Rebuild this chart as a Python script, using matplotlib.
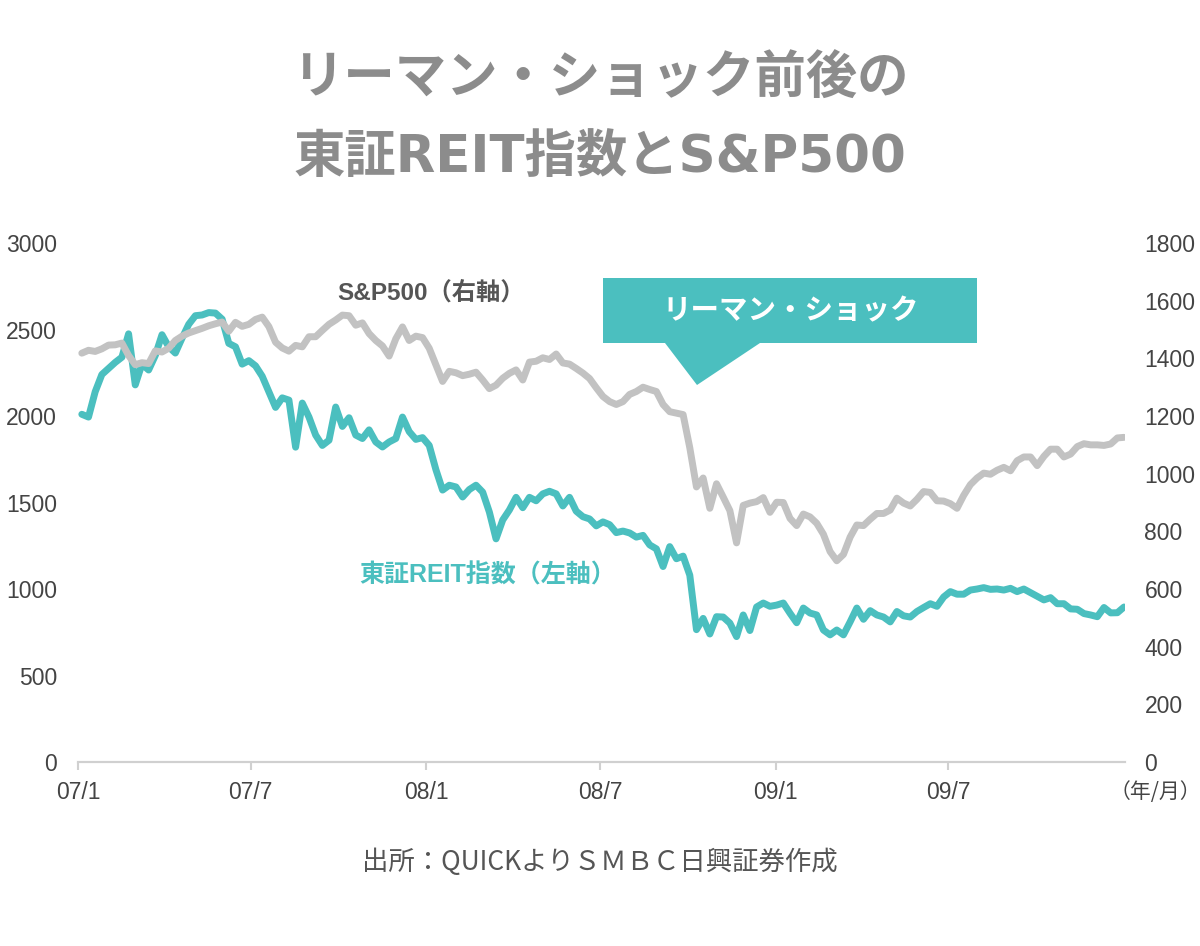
import numpy as np
import pandas as pd
import matplotlib
matplotlib.use("Agg")
import matplotlib.pyplot as plt
import matplotlib.dates as mdates
from matplotlib.patches import Polygon

plt.rcParams['font.family'] = ['Noto Sans CJK JP', 'DejaVu Sans']

# 週次（金曜）2007/1〜2009/12
dates = pd.date_range("2007-01-05", periods=157, freq="7D")

# 東証REIT指数（左軸）
reit = [
    2010, 1994, 2140, 2240, 2275, 2310, 2340, 2475, 2180, 2300,
    2266, 2350, 2470, 2400, 2364, 2450, 2530, 2580, 2584, 2598,
    2595, 2560, 2420, 2400, 2300, 2320, 2290, 2230, 2140, 2050,
    2105, 2092, 1820, 2075, 1994, 1890, 1830, 1860, 2052, 1940,
    1990, 1890, 1870, 1920, 1850, 1821, 1850, 1870, 1994, 1910,
    1865, 1875, 1830, 1690, 1572, 1600, 1590, 1532, 1575, 1600,
    1560, 1445, 1290, 1399, 1457, 1530, 1470, 1530, 1510, 1550,
    1565, 1550, 1480, 1530, 1450, 1418, 1405, 1365, 1388, 1372,
    1326, 1335, 1324, 1300, 1310, 1255, 1232, 1130, 1245, 1175,
    1190, 1080, 765, 830, 740, 840, 838, 803, 725, 850,
    760, 896, 919, 900, 907, 919, 860, 805, 890, 861,
    850, 763, 735, 763, 735, 810, 890, 825, 875, 850,
    838, 810, 870, 845, 838, 870, 893, 915, 900, 954,
    985, 970, 970, 994, 1000, 1008, 998, 1000, 994, 1004,
    985, 1000, 979, 958, 937, 950, 915, 915, 885, 883,
    858, 850, 840, 893, 862, 863, 896,
]

# S&P500（右軸）
spx = [
    1418, 1428, 1424, 1433, 1446, 1447, 1453, 1410, 1378, 1385,
    1382, 1426, 1422, 1435, 1462, 1477, 1488, 1496, 1504, 1513,
    1520, 1526, 1494, 1525, 1511, 1518, 1535, 1543, 1510, 1456,
    1436, 1425, 1445, 1440, 1475, 1475, 1497, 1518, 1533, 1550,
    1548, 1515, 1523, 1486, 1462, 1443, 1408, 1468, 1509, 1462,
    1477, 1472, 1435, 1378, 1320, 1355, 1350, 1340, 1345, 1352,
    1325, 1295, 1307, 1331, 1348, 1360, 1325, 1387, 1390, 1402,
    1396, 1415, 1384, 1380, 1365, 1349, 1330, 1298, 1268, 1250,
    1240, 1250, 1275, 1285, 1300, 1292, 1285, 1240, 1215, 1210,
    1205, 1090, 954, 985, 880, 965, 919, 872, 760, 890,
    898, 903, 917, 866, 901, 900, 845, 820, 860, 850,
    828, 790, 730, 698, 720, 780, 822, 820, 842, 862,
    862, 874, 915, 898, 888, 911, 938, 935, 906, 905,
    896, 880, 925, 962, 985, 1002, 998, 1012, 1022, 1010,
    1045, 1058, 1058, 1028, 1060, 1085, 1085, 1058, 1068, 1094,
    1104, 1100, 1100, 1098, 1103, 1124, 1126,
]

tick_dates = pd.to_datetime(["2007-01-01", "2007-07-01", "2008-01-01",
                             "2008-07-01", "2009-01-01", "2009-07-01"])
tick_labels = ["07/1", "07/7", "08/1", "08/7", "09/1", "09/7"]

TEAL = "#4bbfbf"
GRAY = "#c2c2c2"
TXT = "#444444"
LATIN = ["Liberation Sans", "Noto Sans CJK JP"]

fig = plt.figure(figsize=(12, 9.46), dpi=100)
ax = fig.add_axes([0.065, 0.1945, 0.8725, 0.5486])
ax2 = ax.twinx()

ax.plot(dates, reit, color=TEAL, lw=5, solid_joinstyle="round",
        solid_capstyle="round")
ax2.plot(dates, spx, color=GRAY, lw=5, solid_joinstyle="round",
         solid_capstyle="round")

ax.set_ylim(0, 3000)
ax2.set_ylim(0, 1800)
ax.set_yticks(range(0, 3001, 500))
ax2.set_yticks(range(0, 1801, 200))
ax.set_xlim(pd.Timestamp("2007-01-01"), pd.Timestamp("2010-01-02"))
ax.set_xticks(tick_dates)
ax.set_xticklabels(tick_labels)

for a in (ax, ax2):
    for s in ("top", "left", "right"):
        a.spines[s].set_visible(False)
    a.spines["bottom"].set_color("#d0d0d0")
    a.spines["bottom"].set_linewidth(1.5)

ax.tick_params(axis="x", colors="#d0d0d0", length=6, width=1.5,
               labelcolor=TXT, labelsize=16.5, pad=8)
ax.tick_params(axis="y", length=0, labelcolor=TXT, labelsize=16.5, pad=15)
ax2.tick_params(axis="y", length=0, labelcolor=TXT, labelsize=16.5, pad=14)
for lab in ax.get_xticklabels() + ax.get_yticklabels() + ax2.get_yticklabels():
    lab.set_fontfamily(["Liberation Sans", "DejaVu Sans"])

# タイトル
fig.text(0.5, 0.917, "リーマン・ショック前後の", ha="center", va="center",
         fontsize=37, fontweight="bold", color="#8c8c8c")
fig.text(0.5, 0.833, "東証REIT指数とS&P500", ha="center", va="center",
         fontsize=37, fontweight="bold", color="#8c8c8c",
         family=["DejaVu Sans", "Noto Sans CJK JP"])

# 系列ラベル
fig.text(431 / 1200, 1 - 293 / 946, "S&P500（右軸）", ha="center", va="center",
         fontsize=17.5, fontweight="bold", color="#555555", family=LATIN)
fig.text(488 / 1200, 1 - 575 / 946, "東証REIT指数（左軸）", ha="center",
         va="center", fontsize=18, fontweight="bold", color=TEAL, family=LATIN)

# 吹き出し
W, H = 1200, 946
pts = [(603, 278), (977, 278), (977, 343), (760, 343), (697, 385),
       (665, 343), (603, 343)]
fig.patches.append(Polygon([(x / W, 1 - y / H) for x, y in pts],
                           closed=True, transform=fig.transFigure,
                           facecolor=TEAL, edgecolor="none"))
fig.text(791 / W, 1 - 311 / H, "リーマン・ショック", ha="center", va="center",
         fontsize=20.5, fontweight="bold", color="white")

fig.text(1155 / W, 1 - 792 / H, "（年/月）", ha="center", va="center",
         fontsize=15, color=TXT)
fig.text(0.5, 1 - 862 / H, "出所：QUICKよりＳＭＢＣ日興証券作成", ha="center",
         va="center", fontsize=19, color="#555555")

fig.savefig("out.png", dpi=100)
